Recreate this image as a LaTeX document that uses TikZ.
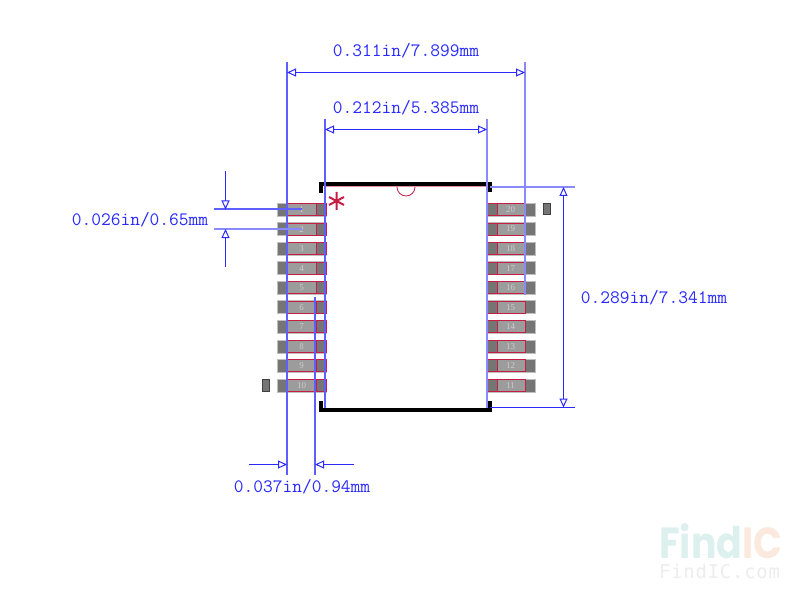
\documentclass[tikz,border=0pt]{standalone}
\usepackage{fontspec}
\usetikzlibrary{arrows.meta}
\newfontface\dimfont{Latin Modern Mono}
\newfontfamily\wmfam{Poppins}
\newfontface\wmreg[LetterSpace=4]{DejaVu Sans Mono}
\newfontface\padfont{Liberation Serif}
\definecolor{dimblue}{HTML}{2A2AFF}
\definecolor{midblue}{HTML}{5F5FFF}
\definecolor{paleblue}{HTML}{8A8AFF}
\definecolor{padred}{HTML}{C41E45}
\definecolor{padgray}{HTML}{757575}
\definecolor{padlight}{HTML}{9C9C9C}
\definecolor{bodyred}{HTML}{E58FA0}
\definecolor{wmteal}{HTML}{DCF0EE}
\definecolor{wmorange}{HTML}{FCE9DD}
\definecolor{wmgray}{HTML}{EDEDED}
\tikzset{
  dimline/.style={draw=dimblue,line width=1.1bp},
  extline/.style={draw=midblue,line width=1.1bp},
  paleline/.style={draw=paleblue,line width=1.1bp},
  dimarrow/.style={dimline,-{Triangle[open,length=9bp,width=8bp,line width=1bp]}},
  dimboth/.style={dimline,{Triangle[open,length=9bp,width=8bp,line width=1bp]}-{Triangle[open,length=9bp,width=8bp,line width=1bp]}},
  dimtext/.style={text=dimblue,inner sep=0pt,font=\fontsize{19}{19}\dimfont},
  padnum/.style={text=black!20,inner sep=0pt,font=\fontsize{9}{9}\padfont},
  silk/.style={draw=black,line width=4bp,line cap=rect,line join=miter},
  redline/.style={draw=padred,line width=1bp},
  fiducial/.style={draw=black!75,fill=padgray,line width=1bp}
}
\begin{document}
\begin{tikzpicture}[x=1bp,y=-1bp]
\useasboundingbox[fill=white] (0,0) rectangle (800,598);
% body outline
\draw[draw=bodyred,line width=1bp] (325,187) rectangle (487.5,408);
% pads
\foreach \i in {1,...,10}{
  \pgfmathsetmacro{\yy}{209.5+(\i-1)*19.55}
  \fill[padgray,draw=black!25,line width=.6bp] (277,\yy-6.5) rectangle (326.5,\yy+6.5);
  \fill[padlight] (287.5,\yy-6) rectangle (316,\yy+6);
  \draw[redline] (287.5,\yy-6) rectangle (326,\yy+6);
  \draw[redline] (316,\yy-6) -- (316,\yy+6);
  \node[padnum] (L\i) at (301.5,\yy) {\i};
  \fill[padgray,draw=black!25,line width=.6bp] (486,\yy-6.5) rectangle (535.5,\yy+6.5);
  \fill[padlight] (497,\yy-6) rectangle (525,\yy+6);
  \draw[redline] (486.5,\yy-6) rectangle (525,\yy+6);
  \draw[redline] (497,\yy-6) -- (497,\yy+6);
  \pgfmathtruncatemacro{\jj}{21-\i}
  \node[padnum] (R\jj) at (510.5,\yy) {\jj};
}
% fiducials
\draw[fiducial] (543.5,203.5) rectangle (550.5,215);
\draw[fiducial] (262,379.5) rectangle (269,391);
% pin-1 notch and marker
\draw[padred,line width=.8bp] (397,187) arc[start angle=180,end angle=0,radius=9];
\draw[padred,line width=2bp] (336.5,192) -- (336.5,210) (329,197) -- (344,205) (329,205) -- (344,197);
% silkscreen
\draw[silk] (321,191) -- (321,184) -- (490,184) -- (490,190);
\draw[silk] (321,403) -- (321,410) -- (490,410) -- (490,403);
% named dimension points
\coordinate (a1) at (287,62); \coordinate (a2) at (287,475);
\coordinate (b1) at (525,62);   \coordinate (b2) at (525,295);
\coordinate (c1) at (325,119);  \coordinate (c2) at (325,408);
\coordinate (d1) at (487,119);\coordinate (d2) at (487,408);
\coordinate (e1) at (315,297);\coordinate (e2) at (315,475);
\coordinate (f1) at (214,209);\coordinate (f2) at (302,209);
\coordinate (g1) at (214,229);\coordinate (g2) at (302,229);
\coordinate (h1) at (490,187);  \coordinate (h2) at (575,187);
\coordinate (i1) at (490,407.5);\coordinate (i2) at (575,407.5);
\draw[extline] (a1) -- (a2);
\draw[paleline] (b1) -- (b2);
\draw[extline] (c1) -- (c2);
\draw[paleline] (d1) -- (d2);
\draw[extline] (e1) -- (e2);
\draw[extline] (f1) -- (f2);
\draw[paleline] (g1) -- (g2);
\draw[paleline] (h1) -- (h2);
\draw[dimline] (i1) -- (i2);
% width dimensions
\coordinate (m1) at (287,72.5); \coordinate (m2) at (525,72.5);
\coordinate (n1) at (325,129.5); \coordinate (n2) at (487,129.5);
\draw[dimboth] (m1) -- (m2);
\draw[dimboth] (n1) -- (n2);
% height dimension
\coordinate (o1) at (563.5,187); \coordinate (o2) at (563.5,407.5);
\draw[dimboth] (o1) -- (o2);
% pitch
\coordinate (p1) at (225.5,171); \coordinate (p2) at (225.5,209.5);
\coordinate (q1) at (225.5,267); \coordinate (q2) at (225.5,229);
\draw[dimarrow] (p1) -- (p2);
\draw[dimarrow] (q1) -- (q2);
% pad length
\coordinate (r1) at (249,464.5); \coordinate (r2) at (287,464.5);
\coordinate (s1) at (354,464.5); \coordinate (s2) at (315,464.5);
\draw[dimarrow] (r1) -- (r2);
\draw[dimarrow] (s1) -- (s2);
% labels
\node[dimtext] (t1) at (406,51) {0.311in/7.899mm};
\node[dimtext] (t2) at (406,108) {0.212in/5.385mm};
\node[dimtext] (t3) at (140,220) {0.026in/0.65mm};
\node[dimtext] (t4) at (654,298) {0.289in/7.341mm};
\node[dimtext] (t5) at (302,487) {0.037in/0.94mm};
% watermark
\node[inner sep=0pt,anchor=base west,yscale=1.15,font=\fontsize{38}{38}\wmfam\bfseries] (wm) at (659,558)
  {\textcolor{wmteal}{Find}\textcolor{wmorange}{IC}};
\node[inner sep=0pt,anchor=base west,text=wmgray,font=\fontsize{19}{19}\wmreg] (wn) at (659,578) {FindIC.com};
\end{tikzpicture}
\end{document}
